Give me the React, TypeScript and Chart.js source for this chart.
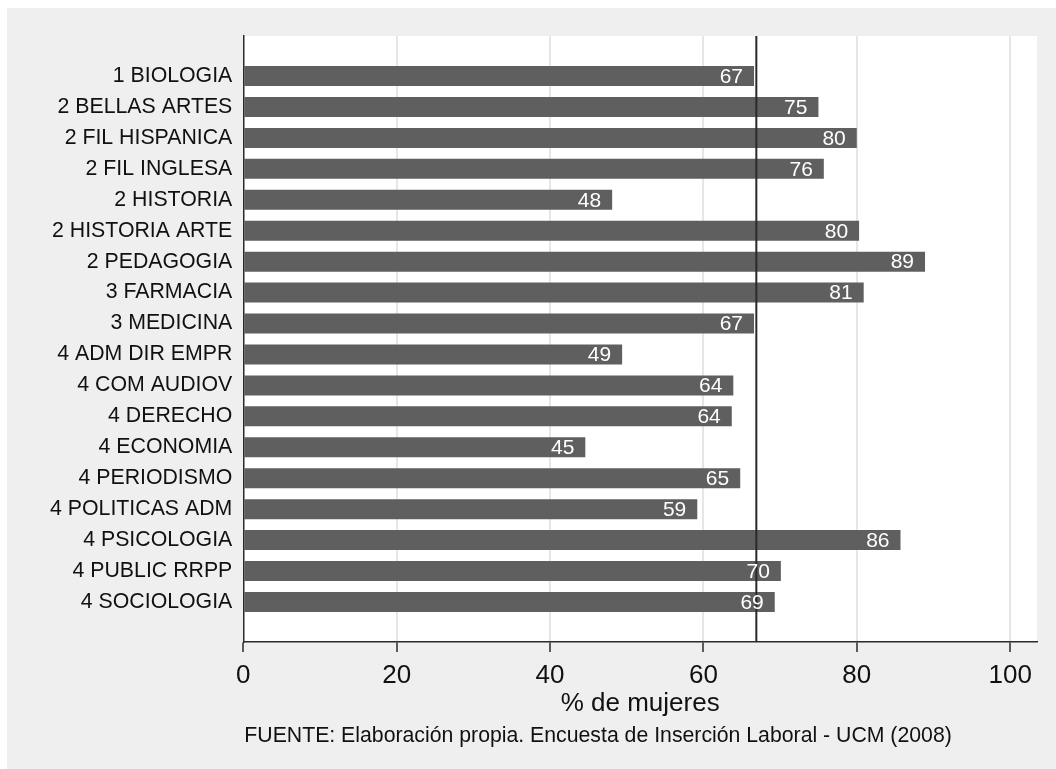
import React, { useEffect, useRef } from "react";
import { Chart, registerables } from "chart.js";

Chart.register(...registerables);

const categories = [
  "1 BIOLOGIA",
  "2 BELLAS ARTES",
  "2 FIL HISPANICA",
  "2 FIL INGLESA",
  "2 HISTORIA",
  "2 HISTORIA ARTE",
  "2 PEDAGOGIA",
  "3 FARMACIA",
  "3 MEDICINA",
  "4 ADM DIR EMPR",
  "4 COM AUDIOV",
  "4 DERECHO",
  "4 ECONOMIA",
  "4 PERIODISMO",
  "4 POLITICAS ADM",
  "4 PSICOLOGIA",
  "4 PUBLIC RRPP",
  "4 SOCIOLOGIA",
];
const pctWomen = [66.6, 75.0, 80.0, 75.7, 48.1, 80.3, 88.9, 80.9, 66.6, 49.4, 63.9, 63.7, 44.6, 64.8, 59.2, 85.7, 70.1, 69.3];
const referenceLine = 66.9;
const xTicks = [0, 20, 40, 60, 80, 100];
const xTitle = "% de mujeres";
const footnote = "FUENTE: Elaboración propia. Encuesta de Inserción Laboral - UCM (2008)";

const FONT = "'Liberation Sans', Arial, Helvetica, sans-serif";

export default function App() {
  const ref = useRef<HTMLCanvasElement | null>(null);

  useEffect(() => {
    const canvas = ref.current;
    if (!canvas) return;

    const plotBg = {
      id: "plotBg",
      beforeDraw(chart: any) {
        const { ctx, chartArea } = chart;
        ctx.save();
        ctx.fillStyle = "#ffffff";
        ctx.fillRect(chartArea.left, chartArea.top, chartArea.right - chartArea.left, chartArea.bottom - chartArea.top);
        ctx.restore();
      },
    };

    const refLine = {
      id: "refLine",
      afterDatasetsDraw(chart: any) {
        const { ctx, chartArea } = chart;
        const x = chart.scales.x.getPixelForValue(referenceLine);
        ctx.save();
        ctx.strokeStyle = "#2a2a2a";
        ctx.lineWidth = 2;
        ctx.beginPath();
        ctx.moveTo(x, chartArea.top);
        ctx.lineTo(x, chartArea.bottom);
        ctx.stroke();
        ctx.restore();
      },
    };

    const valueLabels = {
      id: "valueLabels",
      afterDatasetsDraw(chart: any) {
        const { ctx } = chart;
        const meta = chart.getDatasetMeta(0);
        ctx.save();
        ctx.fillStyle = "#ffffff";
        ctx.font = `21px ${FONT}`;
        ctx.textAlign = "right";
        ctx.textBaseline = "middle";
        meta.data.forEach((bar: any, i: number) => {
          ctx.fillText(String(Math.round(pctWomen[i])), bar.x - 11, bar.y + 1);
        });
        ctx.restore();
      },
    };

    const footnotePlugin = {
      id: "footnote",
      afterDraw(chart: any) {
        const { ctx, chartArea } = chart;
        ctx.save();
        ctx.fillStyle = "#111111";
        ctx.font = `21.25px ${FONT}`;
        ctx.textAlign = "left";
        ctx.textBaseline = "middle";
        ctx.fillText(footnote, chartArea.left + 1, 728);
        ctx.restore();
      },
    };

    const chart = new Chart(canvas, {
      type: "bar",
      data: {
        datasets: [
          {
            data: pctWomen.map((v, i) => ({ x: v, y: i })),
            backgroundColor: "#5f5f5f",
            borderWidth: 0,
            barPercentage: 0.646,
            categoryPercentage: 1,
          },
        ],
      },
      options: {
        indexAxis: "y",
        responsive: false,
        animation: false,
        devicePixelRatio: 1,
        layout: { padding: { top: 28, right: 19, left: 0, bottom: 47.6 } },
        plugins: {
          legend: { display: false },
          tooltip: { enabled: false },
          title: { display: false },
        },
        scales: {
          x: {
            type: "linear",
            position: "bottom",
            min: 0,
            max: 103.5,
            offset: false,
            afterBuildTicks: (scale: any) => {
              scale.ticks = xTicks.map((v) => ({ value: v }));
            },
            afterFit: (scale: any) => {
              scale.height = 79.4;
            },
            grid: {
              color: (c: any) => (c.tick && c.tick.value === 0 ? "rgba(0,0,0,0)" : "#e6e6e6"),
              lineWidth: 2,
              drawTicks: true,
              tickLength: 10,
              tickColor: "#2a2a2a",
              tickWidth: 1.5,
            },
            border: { display: true, color: "#2a2a2a", width: 1.5 },
            ticks: {
              color: "#111111",
              font: { family: FONT, size: 26 },
              padding: 8,
              maxRotation: 0,
              callback: (v: any) => String(v),
            },
            title: {
              display: true,
              text: xTitle,
              color: "#111111",
              font: { family: FONT, size: 26 },
              padding: { top: 0, bottom: 2 },
            },
          },
          y: {
            type: "linear",
            position: "left",
            reverse: true,
            offset: false,
            min: -1.293,
            max: 18.293,
            afterBuildTicks: (scale: any) => {
              scale.ticks = categories.map((_, i) => ({ value: i }));
            },
            afterFit: (scale: any) => {
              scale.width = 236.3;
            },
            grid: { display: false, drawTicks: false },
            border: { display: true, color: "#2a2a2a", width: 1.5 },
            ticks: {
              color: "#111111",
              font: { family: FONT, size: 21.3 },
              padding: 11,
              autoSkip: false,
              callback: (v: any) => categories[v] ?? "",
            },
          },
        },
      },
      plugins: [plotBg, refLine, valueLabels, footnotePlugin],
    });

    return () => chart.destroy();
  }, []);

  return (
    <div
      style={{
        position: "absolute",
        left: 7,
        top: 8,
        width: 1049,
        height: 761,
        background: "#efefef",
      }}
    >
      <canvas ref={ref} width={1049} height={761} style={{ display: "block" }} />
    </div>
  );
}
